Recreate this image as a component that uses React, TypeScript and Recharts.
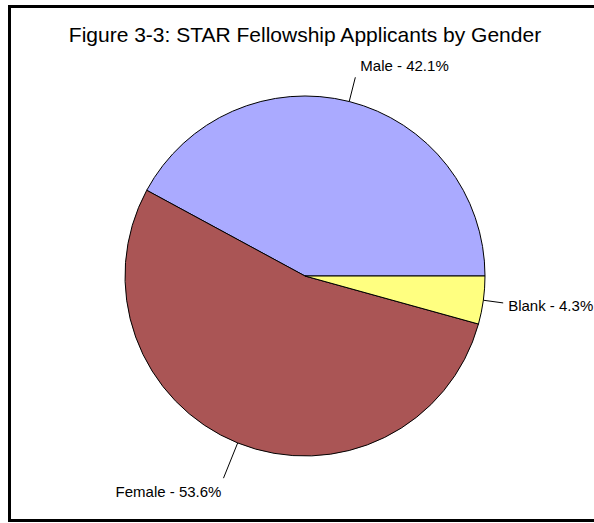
import React from "react";
import { PieChart, Pie, Cell } from "recharts";

const categories = ["Male", "Female", "Blank"];
const percents = [42.1, 53.6, 4.3];
const title = "Figure 3-3: STAR Fellowship Applicants by Gender";

const COLORS = ["#AAAAFF", "#AA5555", "#FFFF80"];
const LINE_LEN = [25, 38, 20];
const FONT = "'Liberation Sans', Arial, sans-serif";

const data = categories.map((name, i) => ({ name, value: percents[i] }));

const RAD = Math.PI / 180;

function renderLabel(props: any) {
  const { cx, cy, midAngle, outerRadius, index, name, value } = props;
  const cos = Math.cos(midAngle * RAD);
  const sin = Math.sin(midAngle * RAD);
  const len = LINE_LEN[index] ?? 24;
  const x1 = cx + outerRadius * cos;
  const y1 = cy - outerRadius * sin;
  const x2 = cx + (outerRadius + len) * cos;
  const y2 = cy - (outerRadius + len) * sin;
  const right = cos >= 0;
  const tx = right ? x2 + 5 : x2 - 2;
  const ty = y2 - 13 * sin + 6.5;
  return (
    <g key={`lbl-${index}`}>
      <line x1={x1} y1={y1} x2={x2} y2={y2} stroke="#000" strokeWidth={1} />
      <text
        x={tx}
        y={ty}
        textAnchor={right ? "start" : "end"}
        fontFamily={FONT}
        fontSize={15}
        fill="#000"
      >
        {`${name} - ${value.toFixed(1)}%`}
      </text>
    </g>
  );
}

export default function App() {
  return (
    <div
      style={{
        position: "absolute",
        left: 0,
        top: 0,
        width: 594,
        height: 523,
        background: "#fff",
        overflow: "hidden",
      }}
    >
      <div
        style={{
          position: "absolute",
          left: 8,
          top: 5,
          width: 620,
          height: 517,
          border: "3px solid #000",
          boxSizing: "border-box",
        }}
      />
      <svg
        width={594}
        height={60}
        style={{ position: "absolute", left: 0, top: 0 }}
      >
        <text
          x={305}
          y={42}
          textAnchor="middle"
          fontFamily={FONT}
          fontSize={21}
          fill="#000"
        >
          {title}
        </text>
      </svg>
      <div style={{ position: "absolute", left: 0, top: 0 }}>
        <PieChart
          width={594}
          height={523}
          margin={{ top: 0, right: 0, bottom: 0, left: 0 }}
        >
          <Pie
            data={data}
            dataKey="value"
            nameKey="name"
            cx={305}
            cy={276}
            outerRadius={180}
            startAngle={0}
            endAngle={360}
            stroke="#000"
            strokeWidth={1}
            label={renderLabel}
            labelLine={false}
            isAnimationActive={false}
          >
            {data.map((d, i) => (
              <Cell key={d.name} fill={COLORS[i]} stroke="#000" />
            ))}
          </Pie>
        </PieChart>
      </div>
    </div>
  );
}
